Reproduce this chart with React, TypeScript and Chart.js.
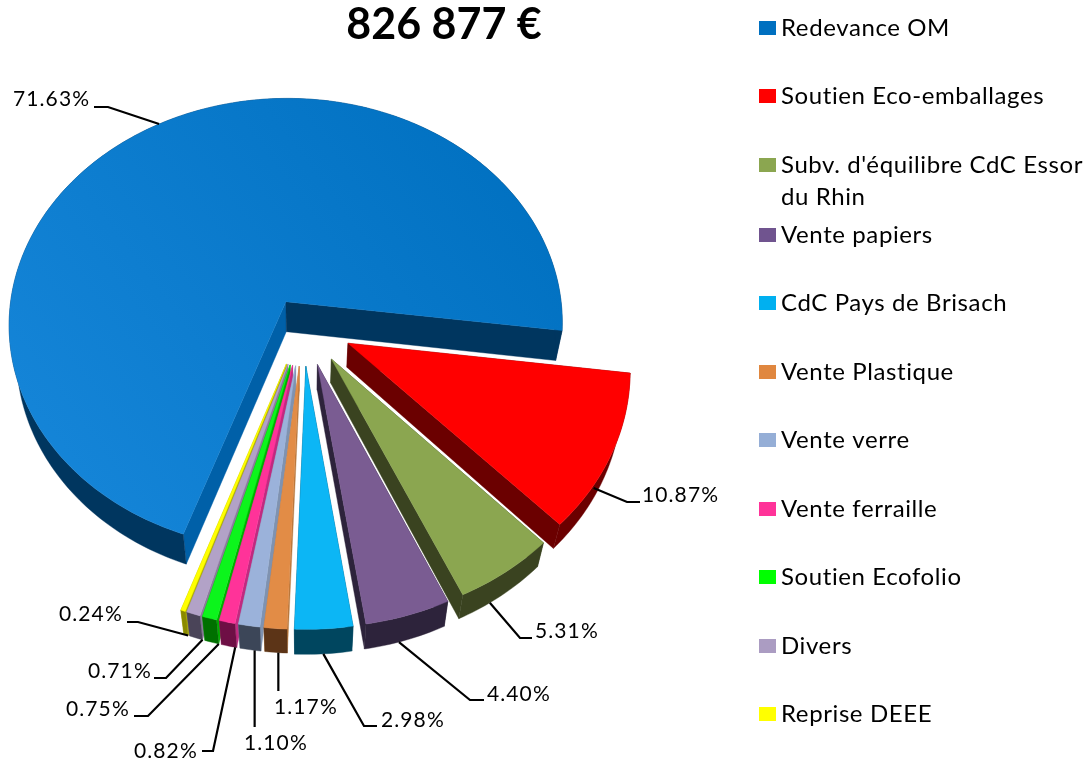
import React, { useEffect, useRef } from "react";
import { Chart, registerables } from "chart.js";

Chart.register(...registerables);

const titleText = "826 877 €";
const labels = [
  "Redevance OM", "Soutien Eco-emballages", "Subv. d'équilibre CdC Essor du Rhin", "Vente papiers",
  "CdC Pays de Brisach", "Vente Plastique", "Vente verre", "Vente ferraille",
  "Soutien Ecofolio", "Divers", "Reprise DEEE",
];
const legendLines = [
  ["Redevance OM"], ["Soutien Eco-emballages"], ["Subv. d'équilibre CdC Essor", "du Rhin"], ["Vente papiers"],
  ["CdC Pays de Brisach"], ["Vente Plastique"], ["Vente verre"], ["Vente ferraille"],
  ["Soutien Ecofolio"], ["Divers"], ["Reprise DEEE"],
];
const values = [71.63, 10.87, 5.31, 4.4, 2.98, 1.17, 1.1, 0.82, 0.75, 0.71, 0.24];
const topColors = ["#0573c2", "#ff0000", "#8ba650", "#7a5c92", "#0cb6f5", "#e28c46", "#9bb2da", "#ff3399", "#0cf51c", "#b2a2c7", "#ffff00"];
const legendColors = ["#0070c0", "#ff0000", "#8ba650", "#70548f", "#00b0f0", "#e0873f", "#95aed6", "#ff3399", "#00ff00", "#ab9cc2", "#ffff00"];
const outerWalls = ["#00365f", "#6b0000", "#3a4320", "#2d233b", "#00465f", "#5c3417", "#3c4658", "#6e0f45", "#007000", "#4a4458", "#8a8a00"];
const startWalls = ["#0060a8", "#6b0000", "#3a4320", "#2d233b", "#00465f", "#b8763a", "#7f92b0", "#c02a80", "#00b000", "#8a7a9a", "#b0b000"];
const endWalls = ["#00365f", "#6b0000", "#3a4320", "#2d233b", "#00465f", "#b8763a", "#7f92b0", "#c02a80", "#00b000", "#8a7a9a", "#b0b000"];
const explode = [33, 50, 50, 50, 50, 50, 50, 50, 50, 50, 50];
const depths = [30, 24, 24, 25, 25, 24, 24, 24, 24, 24, 24];
const paintOrder = [0, 1, 2, 3, 10, 9, 8, 7, 6, 5, 4];
const percentLabels = ["71.63%", "10.87%", "5.31%", "4.40%", "2.98%", "1.17%", "1.10%", "0.82%", "0.75%", "0.71%", "0.24%"];
const anchorFractions = [0.505, 0.7, 0.64, 0.58, 0.5, 0.4, 0.3, 0.1, 0.0, 0.0, 0.0];
const anchorDepths = [0, 0.2, 1, 1, 1, 1, 1, 1, 1, 1, 1];
const elbows = [[108, 107], [627, 502], [520, 638], [470, 700], [364, 726], null, null, [213, 751], [148, 716], [166, 678], [138, 622]];
const tails = [94, 640, 532, 484, 377, null, null, 202, 134, 154, 127];
const lineEnds = [null, null, null, null, null, [277, 691], [253, 727], null, null, null, null];
const textPositions = [[13, 99], [642, 495], [535, 631], [487, 694], [381, 720], [274, 707], [244, 743], [134, 751], [66, 709], [88, 671], [59, 614]];
const legendRows = [28, 96, 165, 235, 303, 372, 440, 509, 577, 646, 714];

const TILT = 0.82;
const PERSPECTIVE = 0.1;
const CONVERGE = 0.025;

function projector(arc: any, index: number) {
  const R = arc.outerRadius;
  const mid = (arc.startAngle + arc.endAngle) / 2;
  const e = (arc.options.offset || 0) / R;
  const ex = Math.cos(mid) * e;
  const ey = Math.sin(mid) * e;
  return (angle: number, rho: number, z: number) => {
    const u = ex + rho * Math.cos(angle);
    const v = ey + rho * Math.sin(angle);
    const w = 1 - PERSPECTIVE * v;
    return [
      arc.x + (R * u * (1 - CONVERGE * z)) / w,
      arc.y + (R * TILT * v) / w + z * depths[index],
    ];
  };
}

function fillPoly(ctx: CanvasRenderingContext2D, pts: number[][], fill: any) {
  ctx.beginPath();
  pts.forEach((p, i) => (i ? ctx.lineTo(p[0], p[1]) : ctx.moveTo(p[0], p[1])));
  ctx.closePath();
  ctx.fillStyle = fill;
  ctx.fill();
  ctx.strokeStyle = fill;
  ctx.lineWidth = 0.4;
  ctx.stroke();
}

const pie3d = {
  id: "pie3d",
  beforeDatasetDraw(chart: any) {
    const ctx: CanvasRenderingContext2D = chart.ctx;
    const arcs = chart.getDatasetMeta(0).data;
    paintOrder.forEach((i) => {
      const arc = arcs[i];
      const p = projector(arc, i);
      const { startAngle: a0, endAngle: a1 } = arc;
      const steps = Math.max(4, Math.ceil(((a1 - a0) * 180) / Math.PI));
      const rim: number[] = [];
      for (let s = 0; s <= steps; s++) rim.push(a0 + ((a1 - a0) * s) / steps);
      fillPoly(ctx, [p(a0, 0, 0), p(a0, 1, 0), p(a0, 1, 1), p(a0, 0, 1)], startWalls[i]);
      fillPoly(ctx, [p(a1, 0, 0), p(a1, 1, 0), p(a1, 1, 1), p(a1, 0, 1)], endWalls[i]);
      fillPoly(ctx, [...rim.map((a) => p(a, 1, 0)), ...rim.slice().reverse().map((a) => p(a, 1, 1))], outerWalls[i]);
      let fill: any = arc.options.backgroundColor;
      if (i === 0) {
        const g = ctx.createLinearGradient(arc.x + 230, arc.y - 180, arc.x - 240, arc.y + 170);
        g.addColorStop(0, "#0070c0");
        g.addColorStop(1, "#1585d8");
        fill = g;
      }
      fillPoly(ctx, [p(a0, 0, 0), ...rim.map((a) => p(a, 1, 0))], fill);
    });
    return false;
  },
  afterDraw(chart: any) {
    const ctx: CanvasRenderingContext2D = chart.ctx;
    const arcs = chart.getDatasetMeta(0).data;
    ctx.save();
    // Title
    ctx.fillStyle = "#000";
    ctx.font = "bold 43px Lato";
    ctx.textAlign = "center";
    ctx.textBaseline = "middle";
    ctx.fillText(titleText, 444, 25);

    // Leader lines and percentage labels
    ctx.textAlign = "left";
    ctx.font = "21px Lato";
    (ctx as any).letterSpacing = "1.1px";
    arcs.forEach((arc: any, i: number) => {
      const p = projector(arc, i);
      const a = arc.startAngle + (arc.endAngle - arc.startAngle) * anchorFractions[i];
      const start = p(a, 1, anchorDepths[i]);
      ctx.beginPath();
      ctx.moveTo(start[0], start[1]);
      const elbow = elbows[i];
      if (elbow) {
        ctx.lineTo(elbow[0], elbow[1]);
        ctx.lineTo(tails[i] as number, elbow[1]);
      } else {
        const end = lineEnds[i] as number[];
        ctx.lineTo(start[0], end[1]);
      }
      ctx.strokeStyle = "#000";
      ctx.lineWidth = 2.2;
      ctx.stroke();
      ctx.fillText(percentLabels[i], textPositions[i][0], textPositions[i][1]);
    });

    // Legend
    ctx.font = "24px Lato";
    (ctx as any).letterSpacing = "0.6px";
    legendLines.forEach((lines, i) => {
      const y = legendRows[i];
      ctx.fillStyle = legendColors[i];
      ctx.fillRect(759, y - 7, 17, 14);
      ctx.fillStyle = "#000";
      lines.forEach((line, j) => ctx.fillText(line, 781, y + 0.5 + j * 32));
    });
    ctx.restore();
  },
};

export default function App() {
  const ref = useRef<HTMLCanvasElement>(null);
  useEffect(() => {
    const chart = new Chart(ref.current as HTMLCanvasElement, {
      type: "pie",
      data: {
        labels,
        datasets: [{ data: values, backgroundColor: topColors, offset: explode, borderWidth: 0 }],
      },
      options: {
        responsive: false,
        animation: false,
        radius: 278,
        rotation: 199.4,
        layout: { padding: { right: 481, bottom: 109 } },
        plugins: { legend: { display: false }, title: { display: false }, tooltip: { enabled: false } },
      },
      plugins: [pie3d],
    } as any);
    return () => chart.destroy();
  }, []);
  return (
    <div style={{ position: "absolute", left: 0, top: 0, width: 1087, height: 758, background: "#fff" }}>
      <canvas ref={ref} width={1087} height={758} style={{ display: "block" }} />
    </div>
  );
}
